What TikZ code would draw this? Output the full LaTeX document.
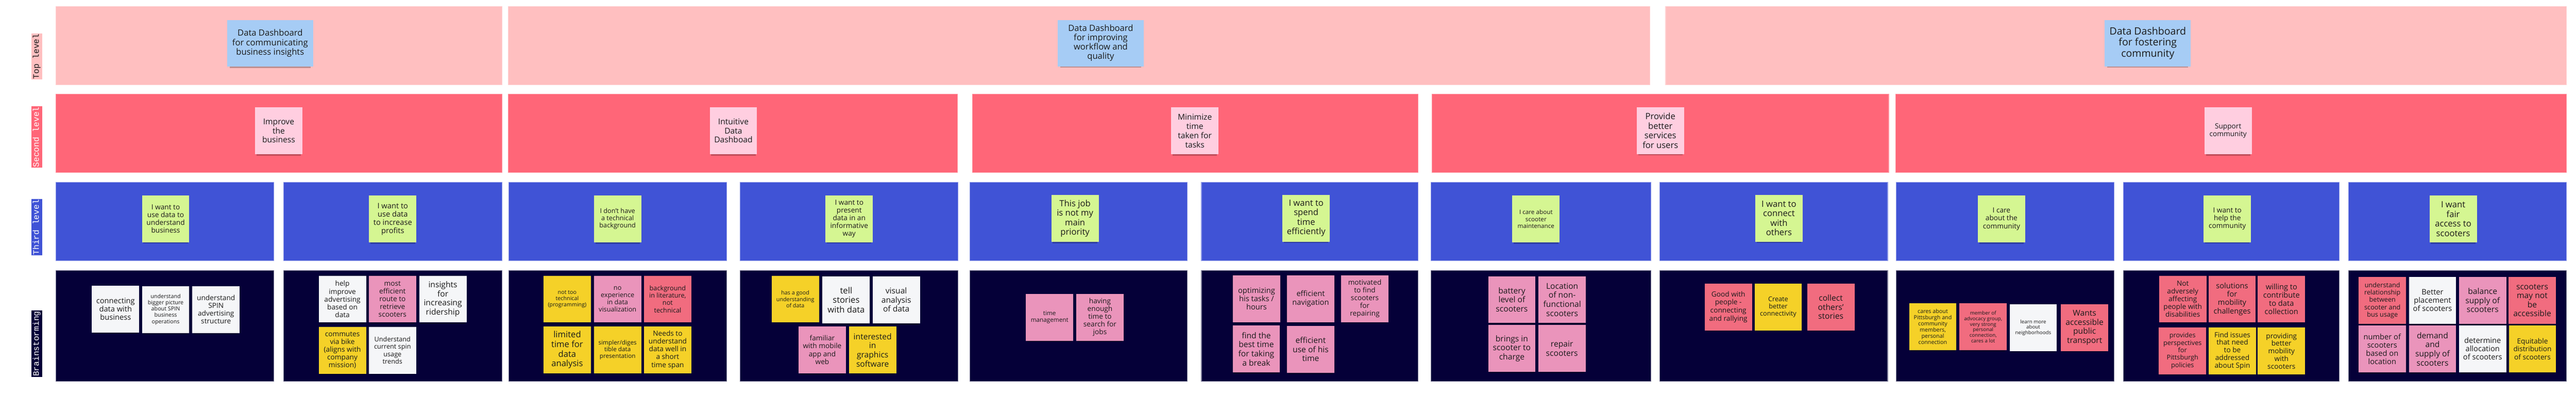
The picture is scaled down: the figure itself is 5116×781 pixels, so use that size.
\documentclass[tikz,border=0pt]{standalone}
\usepackage{fontspec}
\setmainfont{Open Sans}
\newfontfamily\tagfont{Liberation Mono}
\usetikzlibrary{shadows}
\definecolor{bandtop}{HTML}{FFBFC0}
\definecolor{bandsec}{HTML}{FF6678}
\definecolor{bandthird}{HTML}{4053D6}
\definecolor{bandbrain}{HTML}{050038}
\definecolor{noteblue}{HTML}{A6CCF5}
\definecolor{notepink}{HTML}{FFCEE0}
\definecolor{notegreen}{HTML}{D5F692}
\definecolor{notewhite}{HTML}{F5F6F8}
\definecolor{noterose}{HTML}{EA94BB}
\definecolor{notered}{HTML}{F16C7F}
\definecolor{noteyellow}{HTML}{F5D128}
\definecolor{ink}{HTML}{1A1A1A}
\begin{document}
\begin{tikzpicture}[x=1pt, y=-1pt,
   note/.style={minimum width=94pt, minimum height=93pt, inner sep=1pt, align=center, text=ink,
     general shadow={fill=black, opacity=0.25, shadow scale=0.94, shadow yshift=-6pt}},
   fsize/.style 2 args={font=\fontsize{#1}{#2}\selectfont},
   bnote/.style={note, fill=noteblue, minimum width=171pt, minimum height=92pt},
   lnote/.style={note, fill=notepink},
   gnote/.style={note, fill=notegreen},
   wnote/.style={note, fill=notewhite},
   pnote/.style={note, fill=noterose},
   rnote/.style={note, fill=notered},
   ynote/.style={note, fill=noteyellow},
   band/.style={line width=1.2pt},
   tag/.style={rotate=90, anchor=west, font=\tagfont\fontsize{16.6}{18}\selectfont,
     inner xsep=1pt, inner ysep=3pt, text height=12pt, text depth=4pt}]
   \useasboundingbox (0,0) rectangle (5116,781);
   % Bands
   \filldraw[band, fill=bandtop, draw=bandtop!70!white] (111,13) rectangle (997,168) (1009,13) rectangle (3277,168)
     (3308,13) rectangle (5097,168);
   \filldraw[band, fill=bandsec, draw=bandsec!70!white] (111,187) rectangle (997,342) (1009,187) rectangle (1902,342)
     (1931,187) rectangle (2816,342) (2844,187) rectangle (3751,342) (3765,187) rectangle (5097,342);
   \foreach \xa/\xb in {111/544, 563/997, 1010/1443, 1470/1903, 1926/2358, 2386/2816,
       2842/3279, 3296/3749, 3766/4199, 4217/4646, 4664/5097} {
     \filldraw[band, fill=bandthird, draw=bandthird!60!white] (\xa,362) rectangle (\xb,517);
     \filldraw[band, fill=bandbrain, draw=bandbrain!50!white] (\xa,537) rectangle (\xb,757);
   }
   % Labels
   \node[tag, fill=bandtop, text=ink] (ltop) at (73,158) {Top level};
   \node[tag, fill=bandsec, text=white] (lsec) at (73,333) {Second level};
   \node[tag, fill=bandthird, text=white] (lthird) at (73,507) {Third level};
   \node[tag, fill=bandbrain, text=white] (lbrain) at (73,748) {Brainstorming};
   % Top level
   \node[bnote, fsize={17}{19}] (t1) at (536.5,86) {Data Dashboard\\for communicating\\business insights};
   \node[bnote, fsize={17}{18.5}] (t2) at (2186,85.5) {Data Dashboard\\for improving\\workflow and\\quality};
   \node[bnote, fsize={20}{22}] (t3) at (4265.5,85.5) {Data Dashboard\\for fostering\\community};
   % Second level
   \node[lnote, fsize={16}{18}] (s1) at (553.5,259.5) {Improve\\the\\business};
   \node[lnote, fsize={16}{18}] (s2) at (1456.5,259.5) {Intuitive\\Data\\Dashboad};
   \node[lnote, fsize={16}{18.3}] (s3) at (2373,259.5) {Minimize\\time\\taken for\\tasks};
   \node[lnote, fsize={17}{19}] (s4) at (3297.5,259) {Provide\\better\\services\\for users};
   \node[lnote, fsize={14}{16}] (s5) at (4425,259.5) {Support\\community};
   % Third level
   \node[gnote, fsize={14}{15.5}] (c1) at (329,434) {I want to\\use data to\\understand\\business};
   \node[gnote, fsize={15}{16.3}] (c2) at (780,434.5) {I want to\\use data\\to increase\\profits};
   \node[gnote, fsize={13}{14.3}] (c3) at (1226.5,434.5) {I don't have\\a technical\\background};
   \node[gnote, fsize={14}{15.3}] (c4) at (1686.5,434) {I want to\\present\\data in an\\informative\\way};
   \node[gnote, fsize={17}{19}] (c5) at (2135,433.5) {This job\\is not my\\main\\priority};
   \node[gnote, fsize={17}{19}] (c6) at (2594,433) {I want to\\spend\\time\\efficiently};
   \node[gnote, fsize={12}{13.7}] (c7) at (3050.5,434.5) {I care about\\scooter\\maintenance};
   \node[gnote, fsize={17}{19}] (c8) at (3533,433) {I want to\\connect\\with\\others};
   \node[gnote, fsize={14}{15.7}] (c9) at (3975,434.5) {I care\\about the\\community};
   \node[gnote, fsize={14}{15.7}] (c10) at (4423.5,434) {I want to\\help the\\community};
   \node[gnote, fsize={17}{19}] (c11) at (4872,434.5) {I want\\fair\\access to\\scooters};
   % Brainstorming
   \node[wnote, fsize={15}{16}] (b1a) at (229.5,613) {connecting\\data with\\business};
   \node[wnote, fsize={11}{12.4}] (b1b) at (329,614) {understand\\bigger picture\\about SPIN\\business\\operations};
   \node[wnote, fsize={14}{15.5}] (b1c) at (429,614) {understand\\SPIN\\advertising\\structure};
   \node[wnote, fsize={14}{15.5}] (b2a) at (680,593.5) {help\\improve\\advertising\\based on\\data};
   \node[pnote, fsize={14}{15.5}] (b2b) at (779.5,593.5) {most\\efficient\\route to\\retrieve\\scooters};
   \node[wnote, fsize={16}{18}] (b2c) at (879.5,593.5) {insights\\for\\increasing\\ridership};
   \node[ynote, fsize={14}{15.5}] (b2d) at (680,695) {commutes\\via bike\\(aligns with\\company\\mission)};
   \node[wnote, fsize={13}{14.5}] (b2e) at (779.5,695) {Understand\\current spin\\usage\\trends};
   \node[ynote, fsize={11}{12.5}] (b3a) at (1126.5,593.5) {not too\\technical\\(programming)};
   \node[pnote, fsize={13}{14.6}] (b3b) at (1226.5,593.5) {no\\experience\\in data\\visualization};
   \node[rnote, fsize={13}{14.6}] (b3c) at (1326,593.5) {background\\in literature,\\not\\technical};
   \node[ynote, fsize={17}{19.3}] (b3d) at (1126.5,694) {limited\\time for\\data\\analysis};
   \node[ynote, fsize={12}{13.5}] (b3e) at (1226.5,694) {simpler/diges\\tible data\\presentation};
   \node[ynote, fsize={14}{15.5}] (b3f) at (1326,694) {Needs to\\understand\\data well in\\a short\\time span};
   \node[ynote, fsize={11}{12.5}] (b4a) at (1579.5,593.5) {has a good\\understanding\\of data};
   \node[wnote, fsize={17}{19}] (b4b) at (1680.5,595) {tell\\stories\\with data};
   \node[wnote, fsize={16}{18}] (b4c) at (1780,595) {visual\\analysis\\of data};
   \node[pnote, fsize={14}{15.5}] (b4d) at (1633,694) {familiar\\with mobile\\app and\\web};
   \node[ynote, fsize={16}{18}] (b4e) at (1733,694.5) {interested\\in\\graphics\\software};
   \node[pnote, fsize={12}{14}] (b5a) at (2084.5,629.5) {time\\management};
   \node[pnote, fsize={14}{15.3}] (b5b) at (2184.5,629.5) {having\\enough\\time to\\search for\\jobs};
   \node[pnote, fsize={15}{16.3}] (b6a) at (2495.5,592.5) {optimizing\\his tasks /\\hours};
   \node[pnote, fsize={15}{17}] (b6b) at (2603,592.5) {efficient\\navigation};
   \node[pnote, fsize={14}{15.4}] (b6c) at (2710.5,592.5) {motivated\\to find\\scooters\\for\\repairing};
   \node[pnote, fsize={16}{18}] (b6d) at (2495,692.5) {find the\\best time\\for taking\\a break};
   \node[pnote, fsize={16}{17.7}] (b6e) at (2603,693) {efficient\\use of his\\time};
   \node[pnote, fsize={16}{18}] (b7a) at (3002.5,594.5) {battery\\level of\\scooters};
   \node[pnote, fsize={16}{18}] (b7b) at (3102.5,594.5) {Location\\of non-\\functional\\scooters};
   \node[pnote, fsize={16}{18.3}] (b7c) at (3002.5,691.5) {brings in\\scooter to\\charge};
   \node[pnote, fsize={16}{18}] (b7d) at (3102,691.5) {repair\\scooters};
   \node[rnote, fsize={14}{15.9}] (b8a) at (3432.5,609) {Good with\\people -\\connecting\\and rallying};
   \node[ynote, fsize={13}{14.5}] (b8b) at (3531.5,609) {Create\\better\\connectivity};
   \node[rnote, fsize={16}{17.8}] (b8c) at (3636,609) {collect\\others'\\stories};
   \node[ynote, fsize={11}{12.3}] (b9a) at (3838.5,648.5) {cares about\\Pittsburgh and\\community\\members,\\personal\\connection};
   \node[rnote, fsize={10}{11}] (b9b) at (3938.5,648.5) {member of\\advocacy group,\\very strong\\personal\\connection,\\cares a lot};
   \node[wnote, fsize={10}{10.5}] (b9c) at (4038,650) {learn more\\about\\neighborhoods};
   \node[rnote, fsize={16}{18}] (b9d) at (4140,650) {Wants\\accessible\\public\\transport};
   \node[rnote, fsize={14}{15.4}] (b10a) at (4335,593.5) {Not\\adversely\\affecting\\people with\\disabilities};
   \node[rnote, fsize={15}{16.5}] (b10b) at (4433,593.5) {solutions\\for\\mobility\\challenges};
   \node[rnote, fsize={15}{16.3}] (b10c) at (4531,593.5) {willing to\\contribute\\to data\\collection};
   \node[rnote, fsize={13}{14.6}] (b10d) at (4334.5,696) {provides\\perspectives\\for\\Pittsburgh\\policies};
   \node[ynote, fsize={14}{15.2}] (b10e) at (4433.5,696) {Find issues\\that need\\to be\\addressed\\about Spin};
   \node[ynote, fsize={14}{15.2}] (b10f) at (4531,696.5) {providing\\better\\mobility\\with\\scooters};
   \node[rnote, fsize={13}{14.7}] (b11a) at (4731.5,596) {understand\\relationship\\between\\scooter and\\bus usage};
   \node[wnote, fsize={15}{16.3}] (b11b) at (4831,596) {Better\\placement\\of scooters};
   \node[pnote, fsize={16}{17.8}] (b11c) at (4930.5,596) {balance\\supply of\\scooters};
   \node[rnote, fsize={16}{17.9}] (b11d) at (5029,596) {scooters\\may not\\be\\accessible};
   \node[pnote, fsize={15}{16.3}] (b11e) at (4731,692.5) {number of\\scooters\\based on\\location};
   \node[pnote, fsize={16}{18}] (b11f) at (4831,692.5) {demand\\and\\supply of\\scooters};
   \node[wnote, fsize={15}{16.3}] (b11g) at (4930.5,692) {determine\\allocation\\of scooters};
   \node[ynote, fsize={14}{15.5}] (b11h) at (5029.5,692.5) {Equitable\\distribution\\of scooters};
\end{tikzpicture}
\end{document}
